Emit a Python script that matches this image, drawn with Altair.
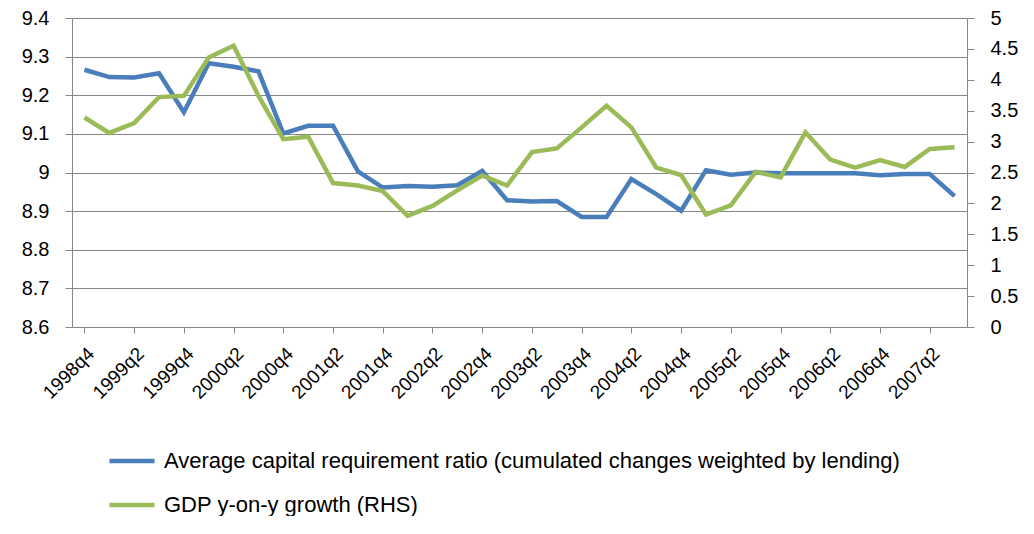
import altair as alt
import pandas as pd

quarters = [
    "1998q4", "1999q1", "1999q2", "1999q3", "1999q4", "2000q1", "2000q2", "2000q3", "2000q4",
    "2001q1", "2001q2", "2001q3", "2001q4", "2002q1", "2002q2", "2002q3", "2002q4",
    "2003q1", "2003q2", "2003q3", "2003q4", "2004q1", "2004q2", "2004q3", "2004q4",
    "2005q1", "2005q2", "2005q3", "2005q4", "2006q1", "2006q2", "2006q3", "2006q4",
    "2007q1", "2007q2", "2007q3",
]
tick_labels = [
    "1998q4", "1999q2", "1999q4", "2000q2", "2000q4", "2001q2", "2001q4", "2002q2",
    "2002q4", "2003q2", "2003q4", "2004q2", "2004q4", "2005q2", "2005q4", "2006q2",
    "2006q4", "2007q2",
]
capital_ratio = [
    9.266, 9.247, 9.246, 9.257, 9.156, 9.283, 9.274, 9.262, 9.101,
    9.121, 9.121, 9.003, 8.961, 8.965, 8.963, 8.967, 9.004,
    8.928, 8.925, 8.926, 8.885, 8.885, 8.983, 8.944, 8.901,
    9.006, 8.994, 9.000, 8.998, 8.998, 8.998, 8.998, 8.993,
    8.996, 8.996, 8.939,
]
gdp_growth = [
    3.39, 3.14, 3.30, 3.72, 3.74, 4.36, 4.55, 3.74, 3.04,
    3.08, 2.33, 2.29, 2.20, 1.80, 1.96, 2.21, 2.45,
    2.29, 2.83, 2.89, 3.23, 3.58, 3.23, 2.58, 2.46,
    1.82, 1.97, 2.51, 2.42, 3.15, 2.71, 2.58, 2.70,
    2.59, 2.88, 2.91,
]
series_names = [
    "Average capital requirement ratio (cumulated changes weighted by lending)",
    "GDP y-on-y growth (RHS)",
]
series_colors = ["#4A7EBB", "#9BBB59"]
left_ticks = [8.6, 8.7, 8.8, 8.9, 9.0, 9.1, 9.2, 9.3, 9.4]
right_ticks = [0, 0.5, 1, 1.5, 2, 2.5, 3, 3.5, 4, 4.5, 5]

df = pd.DataFrame({
    "quarter": quarters,
    "capital": capital_ratio,
    "gdp": gdp_growth,
})

FONT = "Liberation Sans"
GRAY = "#868686"

x_enc = alt.X(
    "quarter:O", sort=None, title=None,
    axis=alt.Axis(
        values=tick_labels, labelAngle=-45,
        tickSize=6, tickColor=GRAY, domainColor=GRAY,
        labelFontSize=19, labelFont=FONT, labelColor="#000000", labelPadding=11,
        grid=False,
    ),
)

base = alt.Chart(df)

left = base.mark_line(strokeWidth=4.5).encode(
    x=x_enc,
    y=alt.Y(
        "capital:Q", title=None,
        scale=alt.Scale(domain=[8.6, 9.4], nice=False, zero=False),
        axis=alt.Axis(
            values=left_ticks, format=".1~f", orient="left",
            grid=True, gridColor=GRAY, gridWidth=1,
            tickSize=7, tickColor=GRAY, domainColor=GRAY,
            labelFontSize=20, labelFont=FONT, labelColor="#000000", labelPadding=16,
        ),
    ),
    color=alt.ColorDatum(series_names[0]),
)

right = base.mark_line(strokeWidth=4.5).encode(
    x=x_enc,
    y=alt.Y(
        "gdp:Q", title=None,
        scale=alt.Scale(domain=[0, 5], nice=False),
        axis=alt.Axis(
            values=right_ticks, format=".1~f", orient="right",
            grid=False, tickSize=7, tickColor=GRAY, domainColor=GRAY,
            labelFontSize=20, labelFont=FONT, labelColor="#000000", labelPadding=16,
        ),
    ),
    color=alt.ColorDatum(series_names[1]),
)

chart = alt.layer(left, right).resolve_scale(y="independent").properties(
    width=895, height=309,
    padding={"left": 13, "top": 0, "right": 5, "bottom": 0},
    background="white",
).configure_view(strokeWidth=0).configure_range(
    category=series_colors
).configure_legend(
    orient="none", legendX=35, legendY=418, direction="vertical",
    symbolType="stroke", symbolStrokeWidth=4.5, symbolSize=2025,
    labelFontSize=22, labelFont=FONT, labelColor="#000000",
    labelLimit=1000, labelOffset=7, rowPadding=8, padding=0,
)

chart.save("out.html", embed_options={"renderer": "svg", "actions": False})
